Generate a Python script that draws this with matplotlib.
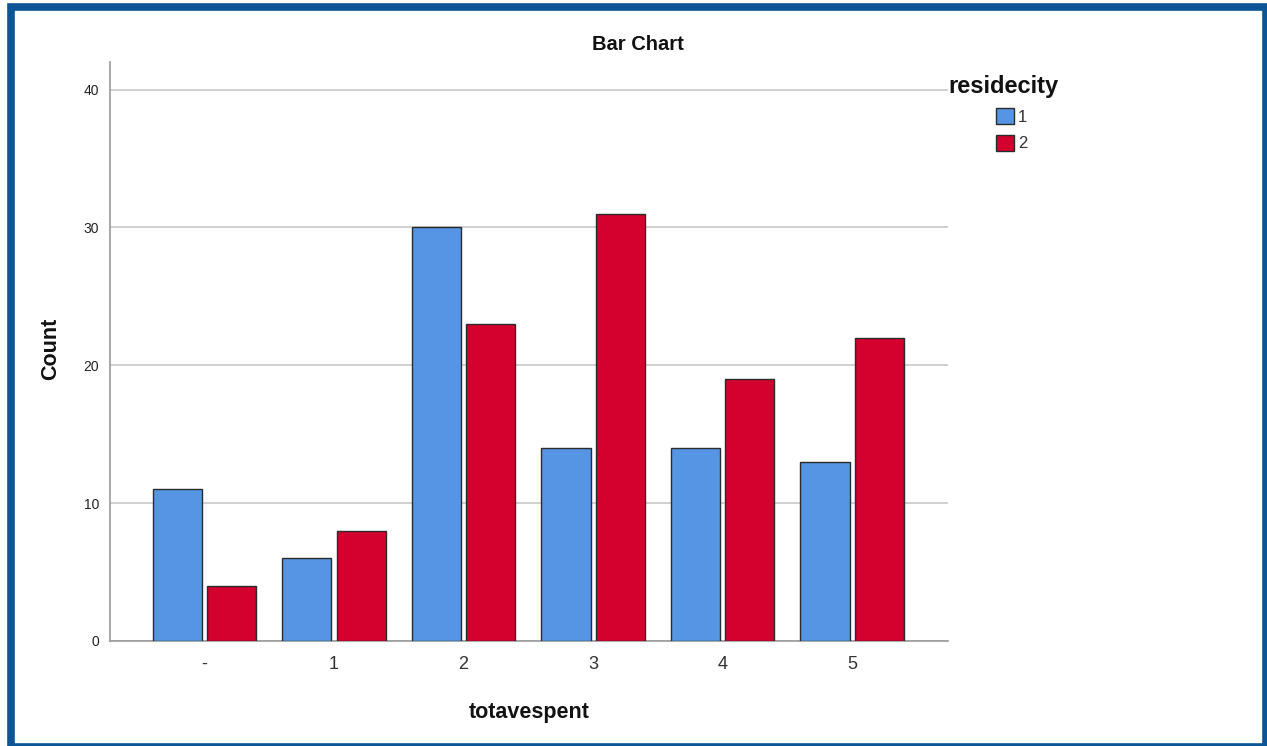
import matplotlib
matplotlib.use("Agg")
import matplotlib.pyplot as plt
from matplotlib.patches import Rectangle, Patch
import numpy as np

plt.rcParams["font.family"] = ["Liberation Sans", "DejaVu Sans"]

categories = ["-", "1", "2", "3", "4", "5"]
series_names = ["1", "2"]
values_1 = [11, 6, 30, 14, 14, 13]
values_2 = [4, 8, 23, 31, 19, 22]
yticks = [0, 10, 20, 30, 40]

blue = "#5595e3"
red = "#d4002e"

fig = plt.figure(figsize=(12.67, 7.46), dpi=100)
W, H = 1267, 746
ax = fig.add_axes([110 / W, 1 - 641 / H, (948 - 110) / W, (641 - 62) / H])

x = np.arange(len(categories))
bw = 0.38
ax.bar(x - 0.21, values_1, bw, color=blue, edgecolor="#2b2b2b", linewidth=1.0, zorder=3)
ax.bar(x + 0.21, values_2, bw, color=red, edgecolor="#2b2b2b", linewidth=1.0, zorder=3)

ax.set_xlim(-0.73, 5.74)
ax.set_ylim(0, 42)
ax.set_yticks(yticks)
ax.set_xticks(x)
ax.set_xticklabels(categories, fontsize=13, color="#333333")
ax.tick_params(axis="y", labelsize=10, colors="#222222", length=0, pad=8)
ax.tick_params(axis="x", length=0, pad=11)
ax.yaxis.grid(True, color="#c8c8c8", linewidth=1.2, zorder=0)
ax.set_axisbelow(True)
for s in ["top", "right"]:
    ax.spines[s].set_visible(False)
for s in ["left", "bottom"]:
    ax.spines[s].set_color("#9a9a9a")
    ax.spines[s].set_linewidth(1.2)

ax.set_ylabel("Count", fontsize=15.5, fontweight="bold", color="#111111")
ax.yaxis.set_label_coords((61 - 110) / 838, (641 - 349) / 579)
ax.set_xlabel("totavespent", fontsize=15.5, fontweight="bold", color="#111111")
ax.xaxis.set_label_coords((529 - 110) / 838, (641 - 702) / 579)
fig.text(638 / W, 1 - 44 / H, "Bar Chart", ha="center", va="center", fontsize=14.5,
         fontweight="bold", color="#111111")

# legend
fig.text(948 / W, 1 - 86 / H, "residecity", ha="left", va="center", fontsize=17,
         fontweight="bold", color="#111111")
handles = [Patch(facecolor=blue, edgecolor="#2b2b2b"), Patch(facecolor=red, edgecolor="#2b2b2b")]
leg = fig.legend(handles, series_names, loc="upper left",
                 bbox_to_anchor=(996 / W, 1 - 108 / H), frameon=False, fontsize=12,
                 borderpad=0, borderaxespad=0,
                 handlelength=1.08, handleheight=1.08, handletextpad=0.25, labelspacing=0.62)
for t in leg.get_texts():
    t.set_color("#333333")

# blue frame around the figure
x0, y0, x1, y1 = 10.5, 7, 1265.5, 746.5
fig.patches.append(Rectangle((x0 / W, 1 - y1 / H), (x1 - x0) / W, (y1 - y0) / H,
                             transform=fig.transFigure, fill=False,
                             edgecolor="#0c5597", linewidth=5.5, zorder=10))

fig.savefig("out.png", dpi=100)
